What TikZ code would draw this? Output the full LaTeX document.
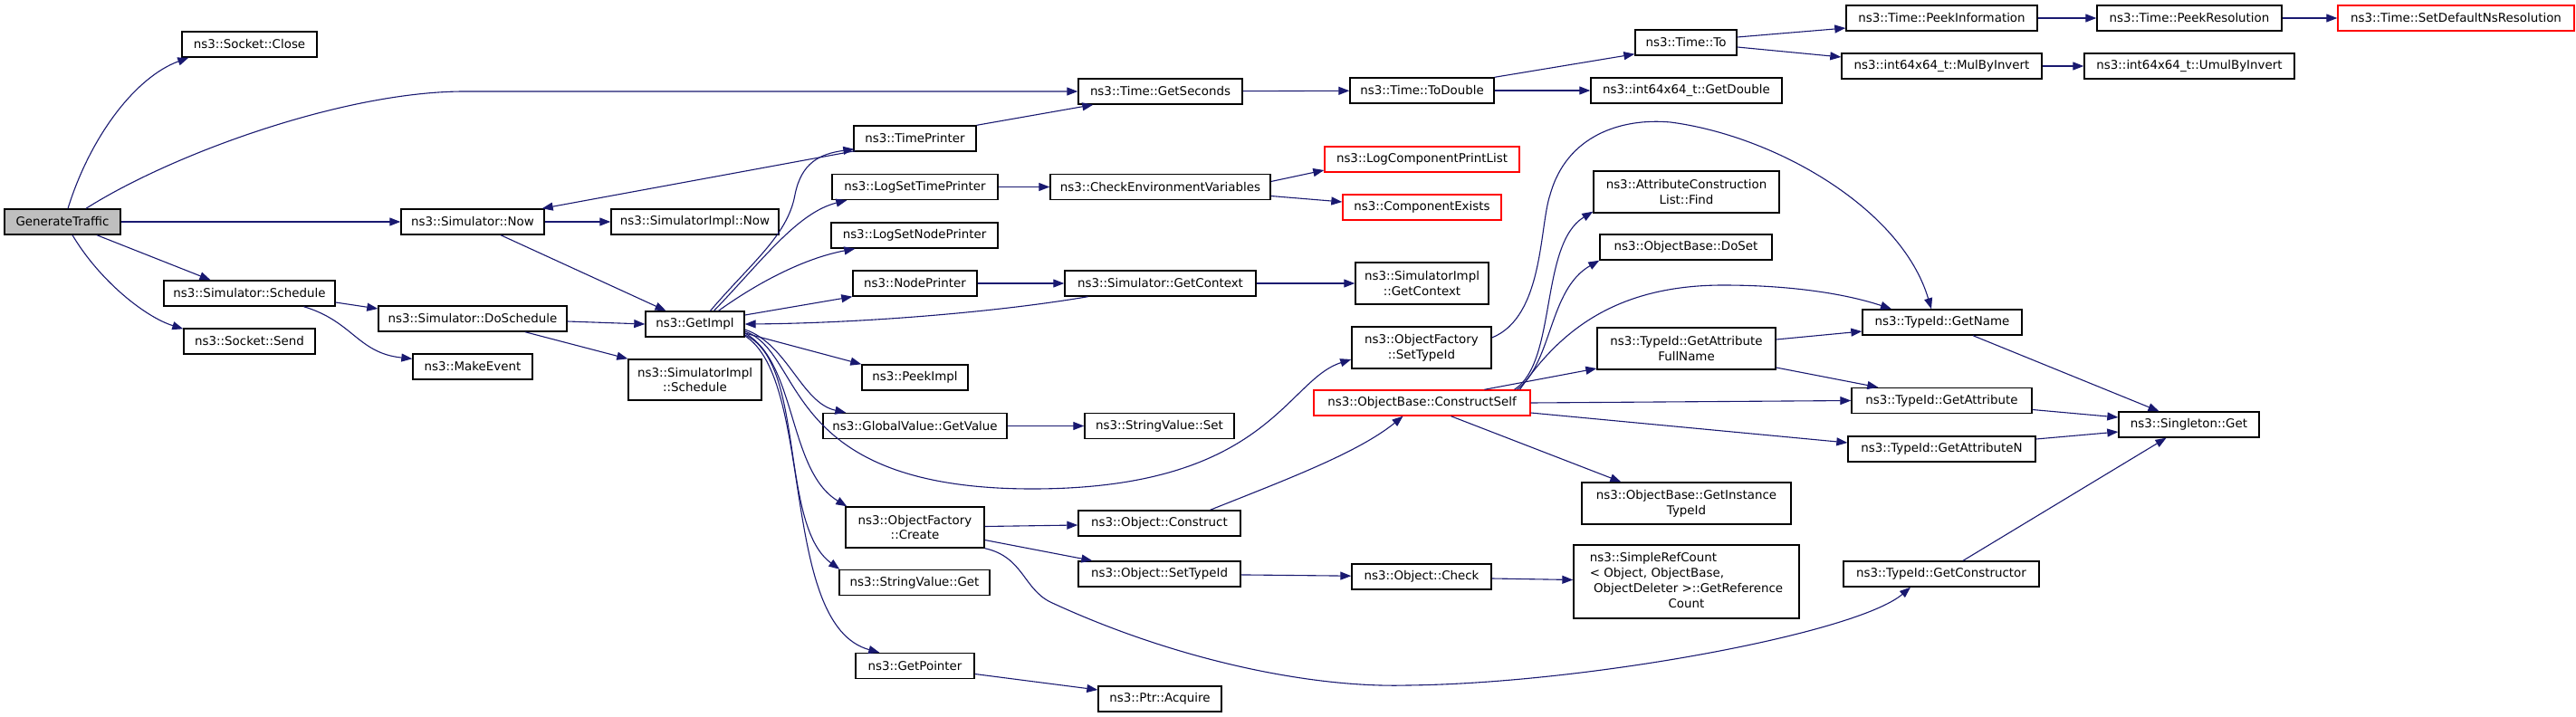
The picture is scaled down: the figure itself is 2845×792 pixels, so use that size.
\documentclass[tikz,border=0pt]{standalone}
\usepackage{fontspec}
\newfontfamily\dvs{DejaVu Sans}
\usetikzlibrary{arrows.meta,calc}
\definecolor{edgec}{HTML}{191970}
\definecolor{gtfill}{HTML}{BFBFBF}
\tikzset{
  nd/.style={draw=black, line width=1.4pt, inner sep=0pt, fill=white, align=center,
    font={\dvs\fontsize{13.4}{16.8}\selectfont}},
  rnd/.style={nd, draw=red},
  e/.style={draw=edgec, line width=1.1pt, -{Triangle[length=12pt,width=9pt]}},
}
\begin{document}
\begin{tikzpicture}[x=1pt,y=-1pt]
\useasboundingbox (0,0) rectangle (2845,792);
% column 0
\node[nd, fill=gtfill, minimum width=128, minimum height=28] (gt) at (69,245) {GenerateTraffic};
% column 1
\node[nd, minimum width=149, minimum height=28] (close) at (275.5,49) {ns3::Socket::Close};
\node[nd, minimum width=189, minimum height=28] (sched) at (275.5,324) {ns3::Simulator::Schedule};
\node[nd, minimum width=145, minimum height=28] (send) at (275.5,377) {ns3::Socket::Send};
% column 2
\node[nd, minimum width=158, minimum height=28] (now) at (522,245) {ns3::Simulator::Now};
\node[nd, minimum width=208, minimum height=28] (dosched) at (522,352) {ns3::Simulator::DoSchedule};
\node[nd, minimum width=132, minimum height=28] (mkev) at (522,405) {ns3::MakeEvent};
% column 3
\node[nd, minimum width=185, minimum height=28] (simnow) at (767.5,245) {ns3::SimulatorImpl::Now};
\node[nd, minimum width=109, minimum height=28] (getimpl) at (767.5,358) {ns3::GetImpl};
\node[nd, minimum width=147, minimum height=45] (simsched) at (767.5,419.5) {ns3::SimulatorImpl\\::Schedule};
% column 4
\node[nd, minimum width=135, minimum height=28] (tprinter) at (1010.5,153) {ns3::TimePrinter};
\node[nd, minimum width=183, minimum height=28] (logsettp) at (1010.5,206.5) {ns3::LogSetTimePrinter};
\node[nd, minimum width=184, minimum height=28] (logsetnp) at (1010,260) {ns3::LogSetNodePrinter};
\node[nd, minimum width=137, minimum height=28] (nprinter) at (1010.5,313) {ns3::NodePrinter};
\node[nd, minimum width=117, minimum height=28] (peekimpl) at (1010.5,417) {ns3::PeekImpl};
\node[nd, minimum width=203, minimum height=28] (gvget) at (1010.5,470.5) {ns3::GlobalValue::GetValue};
\node[nd, minimum width=153, minimum height=45] (ofcreate) at (1010.5,582.5) {ns3::ObjectFactory\\::Create};
\node[nd, minimum width=166, minimum height=28] (svget) at (1010,643.5) {ns3::StringValue::Get};
\node[nd, minimum width=131, minimum height=28] (getptr) at (1010.5,735.5) {ns3::GetPointer};
% column 5
\node[nd, minimum width=181, minimum height=28] (getsec) at (1281.5,101) {ns3::Time::GetSeconds};
\node[nd, minimum width=243, minimum height=28] (checkenv) at (1281.5,206.5) {ns3::CheckEnvironmentVariables};
\node[nd, minimum width=211, minimum height=28] (simgetctx) at (1281.5,313) {ns3::Simulator::GetContext};
\node[nd, minimum width=165, minimum height=28] (svset) at (1280.5,470.5) {ns3::StringValue::Set};
\node[nd, minimum width=179, minimum height=28] (objconstruct) at (1280.5,578) {ns3::Object::Construct};
\node[nd, minimum width=179, minimum height=28] (objsettid) at (1280.5,634) {ns3::Object::SetTypeId};
\node[nd, minimum width=136, minimum height=28] (acquire) at (1281,772) {ns3::Ptr::Acquire};
% column 6
\node[nd, minimum width=159, minimum height=28] (todouble) at (1570.5,100) {ns3::Time::ToDouble};
\node[rnd, minimum width=215, minimum height=28] (logcpl) at (1570.5,176) {ns3::LogComponentPrintList};
\node[rnd, minimum width=175, minimum height=28] (compex) at (1570.5,229) {ns3::ComponentExists};
\node[nd, minimum width=147, minimum height=46] (implgetctx) at (1570.5,313) {ns3::SimulatorImpl\\::GetContext};
\node[nd, minimum width=154, minimum height=46] (ofsettid) at (1570,384) {ns3::ObjectFactory\\::SetTypeId};
\node[rnd, minimum width=239, minimum height=28] (cself) at (1570.5,445) {ns3::ObjectBase::ConstructSelf};
\node[nd, minimum width=154, minimum height=28] (objcheck) at (1570,637) {ns3::Object::Check};
% column 7
\node[nd, minimum width=112, minimum height=28] (timeto) at (1862,47) {ns3::Time::To};
\node[nd, minimum width=211, minimum height=28] (getdouble) at (1862.5,100) {ns3::int64x64\_t::GetDouble};
\node[nd, minimum width=205, minimum height=46] (acfind) at (1862.5,212) {ns3::AttributeConstruction\\List::Find};
\node[nd, minimum width=190, minimum height=28] (doset) at (1862,273) {ns3::ObjectBase::DoSet};
\node[nd, minimum width=197, minimum height=46] (gafn) at (1862.5,385) {ns3::TypeId::GetAttribute\\FullName};
\node[nd, minimum width=231, minimum height=46] (getitid) at (1862.5,556) {ns3::ObjectBase::GetInstance\\TypeId};
\node[nd, minimum width=249, minimum height=81] (simpleref) at (1862.5,642.5) {\begin{tabular}{@{}l@{}}ns3::SimpleRefCount\\
< Object, ObjectBase,\\
\ ObjectDeleter >::GetReference\\
\multicolumn{1}{@{}c@{}}{Count}\end{tabular}};
% column 8
\node[nd, minimum width=211, minimum height=28] (peekinfo) at (2144.5,20) {ns3::Time::PeekInformation};
\node[nd, minimum width=221, minimum height=28] (mulbyinv) at (2144.5,73) {ns3::int64x64\_t::MulByInvert};
\node[nd, minimum width=176, minimum height=28] (getname) at (2145,356) {ns3::TypeId::GetName};
\node[nd, minimum width=199, minimum height=28] (getattr) at (2144.5,442.5) {ns3::TypeId::GetAttribute};
\node[nd, minimum width=207, minimum height=28] (getattrn) at (2144.5,496) {ns3::TypeId::GetAttributeN};
\node[nd, minimum width=216, minimum height=28] (getctor) at (2144,634) {ns3::TypeId::GetConstructor};
% column 9
\node[nd, minimum width=204, minimum height=28] (peekres) at (2418,20) {ns3::Time::PeekResolution};
\node[nd, minimum width=232, minimum height=28] (umul) at (2418,73) {ns3::int64x64\_t::UmulByInvert};
\node[nd, minimum width=155, minimum height=28] (singleton) at (2417.5,469) {ns3::Singleton::Get};
% column 10
\node[rnd, minimum width=261, minimum height=28] (setdef) at (2712.5,20) {ns3::Time::SetDefaultNsResolution};

% ---- edges ----
\draw[e] ([xshift=6pt]gt.north) .. controls (100,150) and (150,85) .. ([xshift=8pt]close.south west);
\draw[e] ([xshift=26pt]gt.north) .. controls (190,170) and (380,101) .. (513,101) -- (getsec.west);
\draw[e] (gt) -- (now);
\draw[e] ([xshift=38pt]gt.south) -- ([xshift=-43pt]sched.north);
\draw[e] ([xshift=11pt]gt.south) .. controls (110,310) and (160,350) .. ([yshift=-1pt]send.north west);
\draw[e] (now) -- (simnow);
\draw[e] ([xshift=31pt]now.south) -- ([xshift=-32pt]getimpl.north);
\draw[e] ([xshift=2pt,yshift=1pt]tprinter.south west) -- ([xshift=-3pt]now.north east);
\draw[e] (tprinter.north east) -- ([xshift=17pt]getsec.south west);
\draw[e] ([yshift=-10pt]sched.east) -- ([yshift=11pt]dosched.west);
\draw[e] ([xshift=60pt]sched.south) .. controls (390,355) and (395,390) .. ([yshift=-6pt]mkev.north west);
\draw[e] ([yshift=-3pt]dosched.east) -- (getimpl.west);
\draw[e] ([xshift=58pt]dosched.south) -- (simsched.north west);
\draw[e] ([xshift=17pt]getimpl.north) .. controls (830,290) and (870,260) .. (878,215) .. controls (885,180) and (905,170) .. ([xshift=1pt,yshift=3pt]tprinter.south west);
\draw[e] ([xshift=21pt]getimpl.north) .. controls (840,290) and (880,235) .. ([xshift=17pt]logsettp.south west);
\draw[e] ([xshift=26pt]getimpl.north) .. controls (840,310) and (890,285) .. ([xshift=27pt]logsetnp.south west);
\draw[e] ([yshift=10pt]getimpl.east) -- (nprinter.south west);
\draw[e] ([xshift=-80pt]simgetctx.south) .. controls (1100,345) and (950,357) .. (getimpl.east);
\draw[e] ([yshift=-10pt]getimpl.east) -- (peekimpl.north west);
\draw[e] ([yshift=-6pt]getimpl.east) .. controls (870,380) and (885,445) .. ([xshift=26pt]gvget.north west);
\draw[e] ([yshift=-8pt]getimpl.east) .. controls (890,390) and (860,540) .. (1140,540) .. controls (1400,540) and (1420,420) .. ([yshift=-13pt]ofsettid.west);
\draw[e] ([yshift=-10pt]getimpl.east) .. controls (880,400) and (870,520) .. ([xshift=2pt]ofcreate.north west);
\draw[e] ([yshift=-12pt]getimpl.east) .. controls (890,400) and (860,580) .. ([xshift=1pt]svget.north west);
\draw[e] ([yshift=-13pt]getimpl.east) .. controls (900,420) and (860,690) .. ([xshift=27pt]getptr.north west);
\draw[e] (logsettp) -- (checkenv);
\draw[e] ([yshift=6pt]checkenv.east) -- ([yshift=-12pt]logcpl.west);
\draw[e] ([yshift=-10pt]checkenv.east) -- ([yshift=6pt]compex.west);
\draw[e] (nprinter) -- (simgetctx);
\draw[e] (simgetctx) -- (implgetctx);
\draw[e] (getsec) -- (todouble);
\draw[e] (todouble.north east) -- ([yshift=2pt]timeto.south west);
\draw[e] (todouble) -- (getdouble);
\draw[e] ([yshift=6pt]timeto.east) -- ([yshift=-11pt]peekinfo.west);
\draw[e] ([yshift=-5pt]timeto.east) -- ([yshift=10pt]mulbyinv.west);
\draw[e] (peekinfo) -- (peekres);
\draw[e] (peekres) -- (setdef);
\draw[e] (mulbyinv) -- (umul);
\draw[e] (gvget) -- (svset);
\draw[e] ([yshift=1pt]ofcreate.east) -- ([yshift=-2pt]objconstruct.west);
\draw[e] ([yshift=-14pt]ofcreate.east) -- ([xshift=16pt]objsettid.north west);
\draw[e] (ofcreate.south east) .. controls (1130,615) and (1130,650) .. (1160,665) .. controls (1300,730) and (1450,760) .. (1554,757) .. controls (1750,755) and (2050,700) .. ([xshift=-34pt]getctor.south);
\draw[e] ([xshift=56pt]objconstruct.north) .. controls (1420,530) and (1500,500) .. ([xshift=-21pt]cself.south);
\draw[e] (objsettid) -- (objcheck);
\draw[e] ([yshift=-2pt]objcheck.east) -- ([yshift=2pt]simpleref.west);
\draw[e] ([yshift=-9pt]getptr.east) -- ([yshift=10pt]acquire.west);
\draw[e] ([yshift=11pt]ofsettid.east) .. controls (1705,350) and (1700,250) .. (1712,215) .. controls (1730,150) and (1790,130) .. (1845,135) .. controls (1960,150) and (2100,230) .. ([xshift=-12pt]getname.north);
\draw[e] ([xshift=102pt]cself.north) .. controls (1720,400) and (1700,270) .. ([yshift=2pt]acfind.south west);
\draw[e] ([xshift=105pt]cself.north) .. controls (1715,400) and (1710,320) .. (doset.south west);
\draw[e] ([xshift=108pt]cself.north) .. controls (1720,370) and (1780,315) .. (1903,315) .. controls (1980,315) and (2040,325) .. ([xshift=-56pt]getname.north);
\draw[e] ([xshift=69pt]cself.north) -- ([yshift=-22pt]gafn.west);
\draw[e] (cself.east) -- (getattr.west);
\draw[e] ([yshift=-11pt]cself.east) -- ([yshift=7pt]getattrn.west);
\draw[e] ([xshift=32pt]cself.south) -- ([xshift=44pt]getitid.north west);
\draw[e] ([yshift=10pt]gafn.east) -- ([yshift=-10pt]getname.west);
\draw[e] ([yshift=-21pt]gafn.east) -- ([xshift=30pt]getattr.north west);
\draw[e] ([xshift=34pt]getname.south) -- ([xshift=-33pt]singleton.north);
\draw[e] ([yshift=-10pt]getattr.east) -- ([yshift=8pt]singleton.west);
\draw[e] ([yshift=11pt]getattrn.east) -- ([yshift=-8pt]singleton.west);
\draw[e] ([xshift=24pt]getctor.north) -- ([xshift=-25pt]singleton.south);
\end{tikzpicture}
\end{document}
